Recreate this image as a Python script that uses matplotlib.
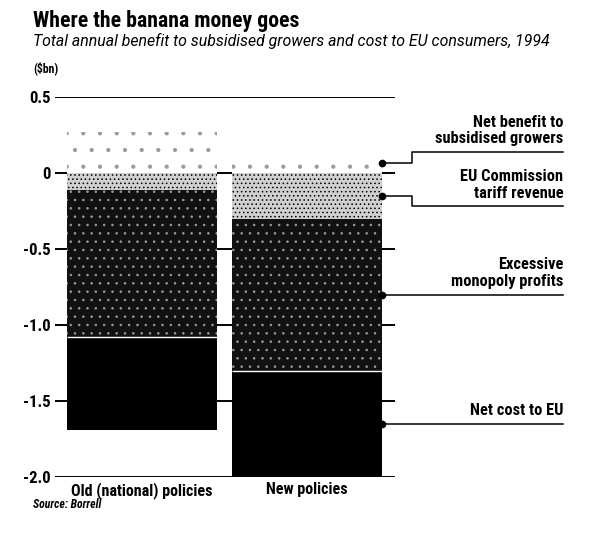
import numpy as np
import matplotlib
matplotlib.use("Agg")
import matplotlib.pyplot as plt
from matplotlib import font_manager

# narrow face if the system has one
names = {f.name for f in font_manager.fontManager.ttflist}
narrow = [n for n in ['Liberation Sans Narrow', 'Roboto Condensed'] if n in names]
plt.rcParams['font.family'] = narrow + ['DejaVu Sans']
plt.rcParams['font.stretch'] = 'condensed'
plt.rcParams['hatch.linewidth'] = 0.6

# data ($bn)
policies = ['Old (national) policies', 'New policies']
net_benefit = [0.27, 0.13]      # above zero
tariff_revenue = [0.11, 0.30]   # below zero, stacked downwards
monopoly_profits = [0.97, 1.00]
net_cost = [0.61, 0.70]
yticks = [0.5, 0, -0.5, -1.0, -1.5, -2.0]
ytick_labels = ['0.5', '0', '-0.5', '-1.0', '-1.5', '-2.0']

W, H = 594, 534
fig = plt.figure(figsize=(W / 100, H / 100), dpi=100)
ax = fig.add_axes([55 / W, 1 - 477 / H, 340 / W, 380 / H])
renderer = fig.canvas.get_renderer()


def fit_width(txt, px):
    # scale the font so the text spans about px pixels
    w = txt.get_window_extent(renderer).width
    txt.set_fontsize(txt.get_fontsize() * px / w)


x = np.arange(len(policies))
width = 0.91

# stacking below zero
tariff_top = np.zeros(2)
mono_top = tariff_top - np.array(tariff_revenue)
cost_top = mono_top - np.array(monopoly_profits)

ax.bar(x, net_benefit, width, bottom=0, color='white', edgecolor='#9a9a9a',
       hatch='.', linewidth=0, zorder=2)
ax.bar(x, -np.array(tariff_revenue), width, bottom=tariff_top, color='#d0d0d0',
       edgecolor='black', hatch='....', linewidth=0, zorder=2)
ax.bar(x, -np.array(monopoly_profits), width, bottom=mono_top, color='#111111',
       edgecolor='#9a9a9a', hatch='..', linewidth=0, zorder=2)
ax.bar(x, -np.array(net_cost), width, bottom=cost_top, color='black',
       linewidth=0, zorder=2)
ax.hlines(cost_top, x - width / 2, x + width / 2, color='white', lw=1, zorder=3)

for t in yticks:
    ax.axhline(t, color='black', lw=1.4, zorder=1)

ax.set_xlim(-0.527, 1.533)
ax.set_ylim(-2.0, 0.5)
for s in ax.spines.values():
    s.set_visible(False)
ax.set_xticks([])
ax.set_yticks(yticks)
ax.set_yticklabels(ytick_labels, fontsize=12, fontweight='bold')
ax.tick_params(axis='y', length=0, pad=3)

for xi, name in zip(x, policies):
    ax.text(xi, -2.035, name, ha='center', va='top', fontsize=11.5,
            fontweight='bold')

# leader lines from the new-policies bar
xe = x[1] + width / 2
xk = 1.637
xt = 2.552
mids = [net_benefit[1] / 2,
        -tariff_revenue[1] / 2,
        mono_top[1] - monopoly_profits[1] / 2,
        cost_top[1] - net_cost[1] / 2]
levels = [0.14, -0.22, mids[2], mids[3]]
labels = ['Net benefit to\nsubsidised growers', 'EU Commission\ntariff revenue',
          'Excessive\nmonopoly profits', 'Net cost to EU']
for m, lv, lab in zip(mids, levels, labels):
    ax.plot([xe], [m], 'o', color='black', ms=4.5, clip_on=False, zorder=5)
    ax.plot([xe, xk, xk, xt], [m, m, lv, lv], color='black', lw=1.1,
            clip_on=False, zorder=5)
    ax.text(xt, lv + 0.035, lab, ha='right', va='bottom', fontsize=11.8,
            fontweight='bold', linespacing=1.15)

title = fig.text(33 / W, 1 - 21 / H, 'Where the banana money goes', ha='left',
                 va='center', fontsize=15, fontweight='bold')
fit_width(title, 265)
sub = fig.text(33 / W, 1 - 41 / H,
               'Total annual benefit to subsidised growers and cost to EU consumers, 1994',
               ha='left', va='center', fontsize=10.5, style='italic',
               family=['Roboto', 'DejaVu Sans'], fontstretch='normal')
fit_width(sub, 522)
fig.text(33 / W, 1 - 68 / H, '(\\$bn)', ha='left', va='center', fontsize=8.5,
         fontweight='bold')
fig.text(33 / W, 1 - 505 / H, 'Source: Borrell', ha='left', va='center',
         fontsize=8.5, style='italic', fontweight='bold')

fig.savefig('out.png', dpi=100, facecolor='white')
